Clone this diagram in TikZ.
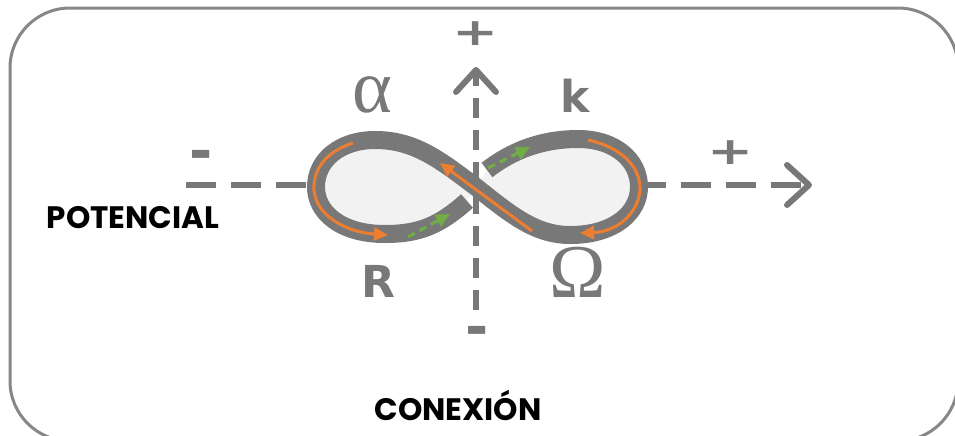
\documentclass[tikz,border=0pt]{standalone}
\usepackage{fontspec}
\setmainfont{Poppins}
\newfontfamily\greekfont{Liberation Serif}
\newfontfamily\heavyfont{DejaVu Sans}
\usetikzlibrary{arrows.meta}

\definecolor{axisgray}{RGB}{120,120,120}
\definecolor{boxgray}{RGB}{135,135,135}
\definecolor{loopfill}{RGB}{242,242,242}
\definecolor{floworange}{RGB}{237,125,49}
\definecolor{flowgreen}{RGB}{112,173,71}

\tikzset{
  haxis/.style={draw=axisgray,line width=3pt,dash pattern=on 15pt off 7.5pt},
  vaxis/.style={draw=axisgray,line width=3pt,dash pattern=on 10pt off 6pt},
  axistip/.style={-{Straight Barb[round,length=11pt,width=20pt]}},
  band/.style={draw=axisgray,line width=9pt},
  flow/.style={draw=floworange,line width=1.5pt,-{Triangle[length=7pt,width=6.5pt]}},
  drift/.style={draw=flowgreen,line width=1.5pt,dash pattern=on 4pt off 2.5pt,
    -{Triangle[length=7pt,width=6.5pt]}},
  plussign/.style={text=axisgray,inner sep=0pt,font=\heavyfont\bfseries\fontsize{19}{19}\selectfont},
  minussign/.style={text=axisgray,inner sep=0pt,font=\heavyfont\bfseries\fontsize{28}{28}\selectfont},
  greeklabel/.style={text=axisgray,inner sep=0pt,anchor=base,font=\greekfont\fontsize{38}{38}\selectfont},
  latinlabel/.style={text=axisgray,inner sep=0pt,anchor=base,font=\heavyfont\bfseries\fontsize{22}{22}\selectfont},
  caption/.style={text=black,inner sep=0pt,anchor=base,font=\bfseries\fontsize{15.5}{15.5}\selectfont}
}

\begin{document}
\begin{tikzpicture}[x=0.5pt,y=-0.5pt]
  \useasboundingbox (0,0) rectangle (955,435);
  \clip (0,0) rectangle (955,435);

  % frame
  \draw[boxgray,line width=1.5pt,rounded corners=30pt] (10,8) rectangle (958,441);

  % points of the figure eight
  \coordinate (cross) at (476,187);
  \coordinate (lowcut) at (467,201);
  \coordinate (upcut) at (487,170);

  % horizontal axis (behind the loops)
  \coordinate (hstart) at (186,185);
  \coordinate (hend) at (812,185);
  \draw[haxis,axistip] (hstart) -- (hend);

  % loop interiors
  \fill[loopfill] (cross) -- (lowcut) .. controls (440,225) and (420,234) .. (385,234)
    .. controls (340,234) and (316,212) .. (316,187)
    .. controls (316,160) and (340,140) .. (375,140)
    .. controls (415,140) and (440,160) .. (cross) -- cycle;
  \fill[loopfill] (cross) .. controls (510,214) and (535,235) .. (570,235)
    .. controls (615,235) and (639,212) .. (639,187)
    .. controls (639,160) and (615,139) .. (578,139)
    .. controls (540,139) and (510,152) .. (upcut) -- cycle;

  % vertical axis
  \coordinate (vstart) at (476,310);
  \coordinate (vend) at (476,67);
  \draw[vaxis,axistip] (vstart) -- (vend);

  % the band
  \draw[band] (lowcut) .. controls (440,225) and (420,234) .. (385,234)
    .. controls (340,234) and (316,212) .. (316,187)
    .. controls (316,160) and (340,140) .. (375,140)
    .. controls (415,140) and (440,160) .. (cross)
    .. controls (510,214) and (535,235) .. (570,235)
    .. controls (615,235) and (639,212) .. (639,187)
    .. controls (639,160) and (615,139) .. (578,139)
    .. controls (540,139) and (510,152) .. (upcut);

  % orange flow
  \draw[flow] (353,143) .. controls (325,152) and (313,170) .. (314,190)
    .. controls (316,215) and (345,232) .. (388,235);
  \draw[flow] (532,231) -- (440,163);
  \draw[flow] (588,140) .. controls (625,148) and (641,170) .. (640,190)
    .. controls (638,215) and (615,232) .. (580,233);

  % green drift
  \draw[drift] (408,237) -- (450,214);
  \draw[drift] (488,168) -- (530,147);

  % signs
  \node[plussign] (vplus) at (476,34) {\scalebox{1.45}[1]{+}};
  \node[plussign] (hplus) at (731,153) {\scalebox{1.45}[1]{+}};
  \node[minussign] (hminus) at (201,160) {-};
  \node[minussign] (vminus) at (477,336) {-};

  % symbols
  \node[greeklabel] (alpha) at (372,112) {α};
  \node[latinlabel] (kay) at (575,112) {k};
  \node[latinlabel] (arr) at (378,297) {R};
  \node[greeklabel] (omega) at (578,297) {Ω};

  % captions
  \node[caption] (potencial) at (133,228) {POTENCIAL};
  \node[caption] (conexion) at (458,420) {CONEXIÓN};
\end{tikzpicture}
\end{document}
